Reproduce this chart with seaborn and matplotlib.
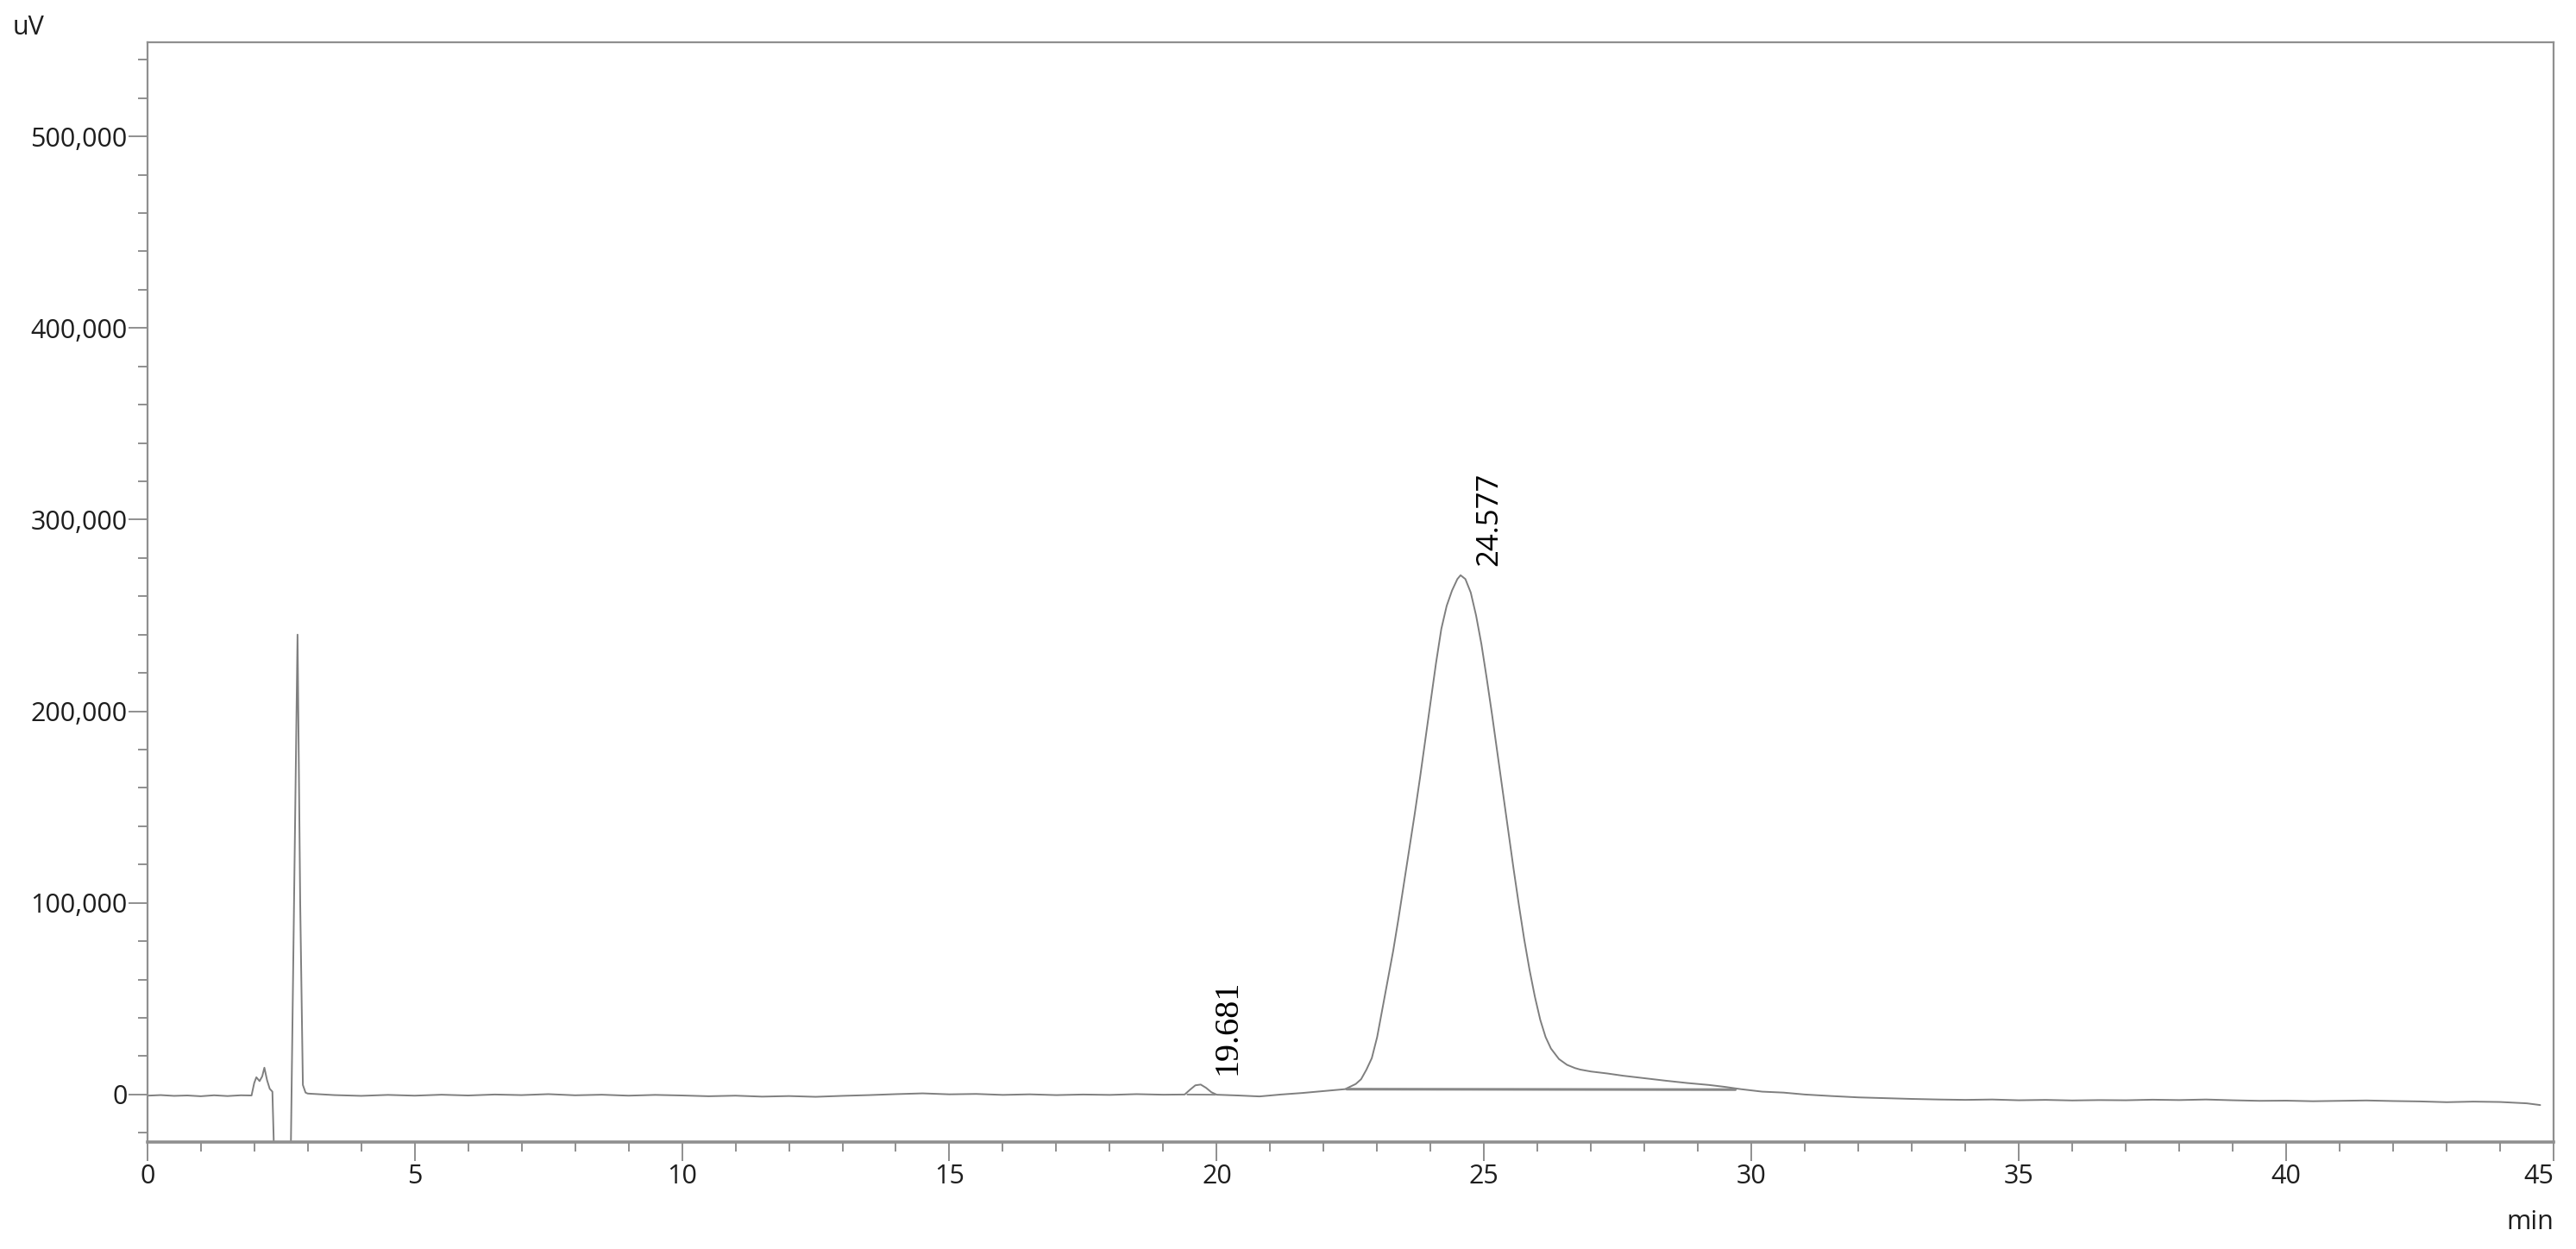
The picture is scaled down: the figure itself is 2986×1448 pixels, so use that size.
import matplotlib
matplotlib.use("Agg")
import matplotlib.pyplot as plt
import numpy as np
import pandas as pd
import seaborn as sns
from matplotlib.ticker import MultipleLocator, StrMethodFormatter

# ── data (time in min, signal in uV) ──────────────────────────────────────
# solvent front: small double hump, negative dip, sharp spike
t_front = [0.0, 0.25, 0.5, 0.75, 1.0, 1.25, 1.5, 1.75, 1.95, 2.0, 2.04, 2.1,
           2.15, 2.19, 2.24, 2.29, 2.34, 2.40, 2.67, 2.81, 2.86, 2.91, 2.96]
v_front = [-600, -300, -700, -500, -900, -400, -800, -400, -500, 6000, 9000, 7000,
           9500, 14000, 7500, 3000, 1500, -60000, -60000, 240000, 100000, 5000, 1000]

# flat baseline up to the minor peak
t_base = [3.0, 3.5, 4.0, 4.5, 5.0, 5.5, 6.0, 6.5, 7.0, 7.5, 8.0, 8.5, 9.0, 9.5,
          10.0, 10.5, 11.0, 11.5, 12.0, 12.5, 13.0, 13.5, 14.0, 14.5, 15.0, 15.5,
          16.0, 16.5, 17.0, 17.5, 18.0, 18.5, 19.0, 19.4]
v_base = [500, -300, -700, -200, -600, -100, -500, 0, -300, 200, -400, -100, -600, -200,
          -500, -900, -600, -1100, -800, -1200, -700, -300, 200, 600, 100, 300,
          -200, 100, -300, 0, -200, 200, -100, 0]

# minor peak 19.681 and lead-in to the main peak
t_minor = [19.5, 19.6, 19.7, 19.8, 19.9, 20.0, 20.4, 20.8, 21.2, 21.6, 22.0]
v_minor = [2500, 4800, 5200, 3500, 1200, -100, -500, -1000, 0, 800, 1800]

# main peak 24.577 with its tailing shoulder
t_main = [22.4, 22.6, 22.7, 22.8, 22.9, 23.0, 23.1, 23.2, 23.3, 23.4, 23.5, 23.6,
          23.7, 23.8, 23.9, 24.0, 24.1, 24.2, 24.3, 24.4, 24.5, 24.56, 24.65, 24.75,
          24.85, 24.95, 25.05, 25.15, 25.25, 25.35, 25.45, 25.55, 25.65, 25.75, 25.85,
          25.95, 26.05, 26.15, 26.25, 26.4, 26.55, 26.7, 26.8, 27.0, 27.3, 27.6,
          28.0, 28.4, 28.8, 29.2, 29.5, 29.8, 30.2, 30.6]
v_main = [2800, 5500, 8000, 13000, 19000, 30000, 45000, 60000, 75000, 92000, 110000, 128000,
          146000, 165000, 185000, 205000, 225000, 243000, 255000, 263000, 269000, 271000, 269000, 262000,
          250000, 235000, 217000, 198000, 178000, 158000, 138000, 118000, 99000, 81000, 65000,
          51000, 39000, 30000, 24000, 18500, 15500, 13800, 13000, 12000, 11000, 9800,
          8500, 7200, 6000, 5000, 4000, 2800, 1500, 1000]

# drifting baseline to the end of the run
t_tail = [31.0, 31.5, 32.0, 32.5, 33.0, 33.5, 34.0, 34.5, 35.0, 35.5, 36.0, 36.5,
          37.0, 37.5, 38.0, 38.5, 39.0, 39.5, 40.0, 40.5, 41.0, 41.5, 42.0, 42.5,
          43.0, 43.5, 44.0, 44.5, 44.75]
v_tail = [0, -800, -1500, -1900, -2300, -2600, -2800, -2600, -3000, -2800, -3100, -2900,
          -3000, -2700, -2900, -2600, -3000, -3300, -3200, -3500, -3300, -3100, -3400, -3600,
          -4000, -3700, -3900, -4600, -5500]

# integration baselines drawn under the two peaks
bl_main_t = [22.43, 29.70]
bl_main_v = [2800, 2550]
bl_minor_t = [19.45, 19.97]
bl_minor_v = [0, -100]

# peak retention times / apex heights / labels
peak_rt = [19.681, 24.577]
peak_top = [5200, 271000]
peak_lbl = ["19.681", "24.577"]

x_major = [0, 5, 10, 15, 20, 25, 30, 35, 40, 45]

TRACE = "#7f7f7f"
AXIS = "#8f8f8f"
TEXT = "#1e1e1e"

df = pd.DataFrame({
    "min": t_front + t_base + t_minor + t_main + t_tail,
    "uV": v_front + v_base + v_minor + v_main + v_tail,
})

sns.set_style("white")
plt.rcParams["font.family"] = ["Open Sans", "DejaVu Sans"]

fig = plt.figure(figsize=(29.86, 14.48), dpi=100)
ax = fig.add_axes([0.05717, 0.08564, 0.93412, 0.88031])

sns.lineplot(data=df, x="min", y="uV", ax=ax, color=TRACE, lw=1.4,
             estimator=None, sort=False)
sns.lineplot(x=bl_main_t, y=bl_main_v, ax=ax, color="#888888", lw=2.2, estimator=None)
sns.lineplot(x=bl_minor_t, y=bl_minor_v, ax=ax, color="#888888", lw=1.4, estimator=None)

# the minor peak label is printed in a serif face, the main one in sans
label_fonts = [(["Liberation Serif", "DejaVu Serif"], 29),
               (["Open Sans", "DejaVu Sans"], 25)]
for rt, top, lbl, (fam, size) in zip(peak_rt, peak_top, peak_lbl, label_fonts):
    ax.annotate(lbl, xy=(rt, top), xytext=(23, 8), textcoords="offset points",
                rotation=90, ha="center", va="bottom", fontsize=size,
                family=fam, color="black")

ax.set_xlim(0, 45)
ax.set_ylim(-24800, 549000)
ax.set_xticks(x_major)
ax.xaxis.set_minor_locator(MultipleLocator(1))
ax.yaxis.set_major_locator(MultipleLocator(100000))
ax.yaxis.set_minor_locator(MultipleLocator(20000))
ax.yaxis.set_major_formatter(StrMethodFormatter("{x:,.0f}"))
ax.set_xlabel("")
ax.set_ylabel("")

ax.tick_params(axis="both", which="major", direction="out", length=15.8, width=1.4,
               color=AXIS, labelsize=22, labelcolor=TEXT)
ax.tick_params(axis="both", which="minor", direction="out", length=8, width=1.4,
               color=AXIS)
ax.tick_params(axis="x", which="major", pad=2)
ax.tick_params(axis="y", which="major", pad=1)
ax.tick_params(bottom=True, left=True, which="both")

for side, sp in ax.spines.items():
    sp.set_visible(True)
    sp.set_color(AXIS)
    sp.set_linewidth(2.6 if side == "bottom" else 1.6)

fig.text(15 / 2986, 1 - 40 / 1448, "uV", fontsize=22, color=TEXT,
         ha="left", va="baseline")
fig.text(2960 / 2986, 1 - 1425 / 1448, "min", fontsize=22, color=TEXT,
         ha="right", va="baseline")

fig.canvas.draw()
xlabels = ax.get_xticklabels()
xlabels[-1].set_horizontalalignment("right")

fig.savefig("out.png", dpi=100, facecolor="white")
